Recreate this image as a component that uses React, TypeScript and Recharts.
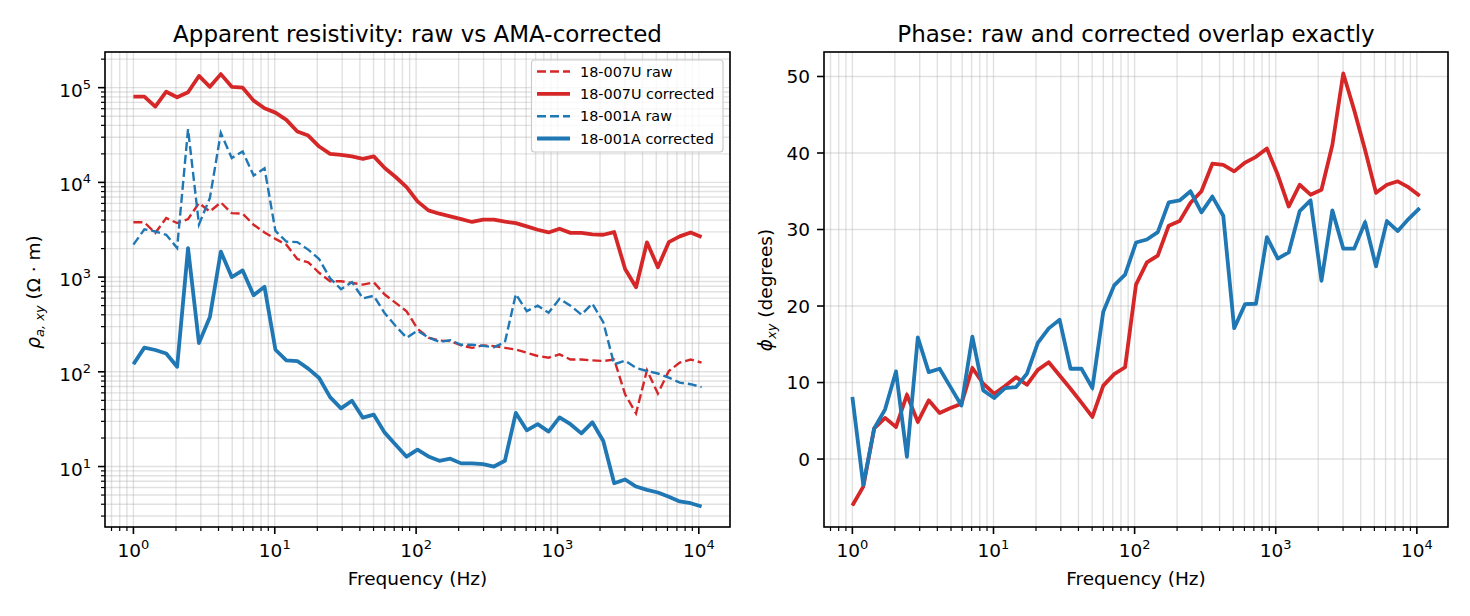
import React from "react";
import { LineChart, Line, XAxis, YAxis, CartesianGrid } from "recharts";

// ---------- data ----------
const freqs = [
  1.0, 1.195, 1.428, 1.706, 2.038, 2.435, 2.909, 3.476, 4.153, 4.962, 5.929, 7.084, 8.464,
  10.11, 12.08, 14.44, 17.25, 20.61, 24.63, 29.42, 35.16, 42.01, 50.19, 59.97, 71.65, 85.61,
  102.3, 122.2, 146.0, 174.5, 208.4, 249.0, 297.6, 355.5, 424.8, 507.6, 606.5, 724.6, 865.8,
  1034, 1236, 1477, 1765, 2109, 2519, 3010, 3597, 4297, 5134, 6134, 7328, 8756, 10462,
];

const rho007Raw = [
  3790, 3790, 2920, 4210, 3720, 4100, 6050, 4930, 6140, 4740,
  4670, 3570, 2960, 2530, 2200, 1550, 1430, 1110, 904, 904,
  869, 834, 880, 655, 535, 436, 285, 229, 214, 211,
  190, 179, 190, 187, 179, 172, 159, 147, 141, 153,
  135, 135, 132, 130, 135, 57.8, 36.5, 104, 59, 102,
  125, 135, 125,
];

const rho007Cor = [
  80400, 80400, 63100, 90700, 79200, 89600, 133000, 102000, 139000, 102000,
  100000, 73000, 60600, 54500, 45700, 34400, 31200, 23900, 20000, 19500,
  18800, 17700, 18800, 14200, 11400, 8900, 6300, 5060, 4670, 4380,
  4100, 3820, 4040, 4040, 3850, 3720, 3430, 3160, 2960, 3240,
  2930, 2930, 2820, 2800, 2990, 1220, 782, 2330, 1270, 2340,
  2690, 2960, 2650,
];

const rho001Raw = [
  2200, 3200, 3030, 2800, 2030, 36500, 3600, 6850, 33300, 18100,
  21200, 11800, 14100, 3070, 2370, 2340, 1950, 1550, 970, 745,
  885, 597, 635, 415, 305, 229, 272, 231, 207, 216,
  193, 193, 188, 182, 205, 660, 437, 500, 421, 590,
  500, 402, 525, 334, 120, 131, 110, 102, 96, 87,
  77, 74, 69,
];

const rho001Cor = [
  120, 180, 170, 156, 113, 2020, 201, 380, 1860, 1000,
  1175, 645, 790, 171, 132, 130, 108, 86, 54, 41.1,
  49.5, 32.8, 35.3, 22.8, 17.0, 12.7, 15.1, 12.8, 11.5, 12.1,
  10.8, 10.8, 10.6, 10.0, 11.5, 36.8, 24.1, 28.0, 23.4, 33.0,
  28.0, 22.4, 29.3, 18.6, 6.67, 7.3, 6.15, 5.67, 5.32, 4.8,
  4.28, 4.1, 3.79,
];

const phase007 = [
  -6.06, -3.6, 4.0, 5.38, 4.2, 8.4, 4.86, 7.67, 6.03, 6.68,
  7.24, 11.9, 9.84, 8.54, 9.54, 10.7, 9.71, 11.66, 12.66, 10.92,
  9.19, 7.37, 5.5, 9.6, 11.1, 12.0, 22.8, 25.7, 26.6, 30.5,
  31.1, 33.5, 35.0, 38.6, 38.45, 37.6, 38.75, 39.5, 40.6, 37.15,
  33.0, 35.85, 34.55, 35.2, 41.05, 50.4, 45.6, 40.4, 34.8, 35.85,
  36.3, 35.5, 34.4,
];

const phase001 = [
  8.11, -3.38, 4.0, 6.5, 11.45, 0.3, 15.9, 11.36, 11.8, 9.4,
  7.0, 16.0, 8.97, 7.98, 9.28, 9.4, 11.14, 15.17, 17.08, 18.2,
  11.8, 11.8, 9.28, 19.25, 22.7, 24.1, 28.3, 28.7, 29.65, 33.55,
  33.8, 35.0, 32.25, 34.3, 31.8, 17.1, 20.25, 20.3, 29.0, 26.2,
  27.0, 32.4, 33.8, 23.3, 32.5, 27.5, 27.5, 30.95, 25.2, 31.1,
  29.8, 31.4, 32.8,
];

const seriesNames = ["18-007U raw", "18-007U corrected", "18-001A raw", "18-001A corrected"];
const titles = ["Apparent resistivity: raw vs AMA-corrected", "Phase: raw and corrected overlap exactly"];
const xLabel = "Frequency (Hz)";

// ---------- axes config ----------
const xMajorTicks = [1, 10, 100, 1000, 10000];
const xMinorTicks = [0.7, 0.8, 0.9, 2, 3, 4, 5, 6, 7, 8, 9, 20, 30, 40, 50, 60, 70, 80, 90,
  200, 300, 400, 500, 600, 700, 800, 900, 2000, 3000, 4000, 5000, 6000, 7000, 8000, 9000];
const xTicks = [...xMajorTicks, ...xMinorTicks].sort((a, b) => a - b);
const xDomain = [0.6295, 16620];

const rhoMajorTicks = [10, 100, 1000, 10000, 100000];
const rhoMinorTicks = [3, 4, 5, 6, 7, 8, 9, 20, 30, 40, 50, 60, 70, 80, 90,
  200, 300, 400, 500, 600, 700, 800, 900, 2000, 3000, 4000, 5000, 6000, 7000, 8000, 9000,
  20000, 30000, 40000, 50000, 60000, 70000, 80000, 90000, 200000];
const rhoTicks = [...rhoMajorTicks, ...rhoMinorTicks].sort((a, b) => a - b);
const rhoDomain = [2.3, 238000];

const phaseTicks = [0, 10, 20, 30, 40, 50];
const phaseDomain = [-8.88, 53.2];

const RED = "#d62728";
const BLUE = "#1f77b4";
const FONT = "DejaVu Sans, Verdana, sans-serif";
const TICK_FS = 18.5;
const SUP_FS = 13;

const rhoData = freqs.map((f, i) => ({
  f,
  r7raw: rho007Raw[i],
  r7cor: rho007Cor[i],
  r1raw: rho001Raw[i],
  r1cor: rho001Cor[i],
}));

const phaseData = freqs.map((f, i) => ({
  f,
  p7raw: phase007[i],
  p7cor: phase007[i],
  p1raw: phase001[i],
  p1cor: phase001[i],
}));

function isDecade(v: number) {
  const l = Math.log10(v);
  return Math.abs(l - Math.round(l)) < 1e-6;
}

function LogXTick(props: any) {
  const { x, y, payload } = props;
  const v = payload.value;
  const major = isDecade(v);
  const e = Math.round(Math.log10(v));
  return (
    <g>
      <line x1={x} x2={x} y1={y} y2={y + (major ? 7 : 4)} stroke="#000" strokeWidth={major ? 1.6 : 1.2} />
      {major && (
        <text x={x} y={y + 30} textAnchor="middle" fontFamily={FONT} fontSize={TICK_FS} fill="#000">
          10<tspan dy={-8} fontSize={SUP_FS}>{e}</tspan>
        </text>
      )}
    </g>
  );
}

function LogYTick(props: any) {
  const { x, y, payload } = props;
  const v = payload.value;
  const major = isDecade(v);
  const e = Math.round(Math.log10(v));
  return (
    <g>
      <line x1={x - (major ? 7 : 4)} x2={x} y1={y} y2={y} stroke="#000" strokeWidth={major ? 1.6 : 1.2} />
      {major && (
        <text x={x - 14} y={y + 9} textAnchor="end" fontFamily={FONT} fontSize={TICK_FS} fill="#000">
          10<tspan dy={-8} fontSize={SUP_FS}>{e}</tspan>
        </text>
      )}
    </g>
  );
}

function LinYTick(props: any) {
  const { x, y, payload } = props;
  return (
    <g>
      <line x1={x - 7} x2={x} y1={y} y2={y} stroke="#000" strokeWidth={1.6} />
      <text x={x - 14} y={y + 6.7} textAnchor="end" fontFamily={FONT} fontSize={TICK_FS} fill="#000">
        {payload.value}
      </text>
    </g>
  );
}

const gridProps = { stroke: "#b0b0b0", strokeOpacity: 0.38, strokeWidth: 1.4 };
const rawLine = { strokeWidth: 2.4, strokeDasharray: "9 4", dot: false, isAnimationActive: false, type: "linear" as const };
const corLine = { strokeWidth: 3.8, dot: false, isAnimationActive: false, type: "linear" as const, strokeLinejoin: "round" as const };

export default function App() {
  const legendRows = [
    { name: seriesNames[0], color: RED, dashed: true, y: 71.5 },
    { name: seriesNames[1], color: RED, dashed: false, y: 93.8 },
    { name: seriesNames[2], color: BLUE, dashed: true, y: 116.2 },
    { name: seriesNames[3], color: BLUE, dashed: false, y: 138.5 },
  ];
  return (
    <div style={{ position: "absolute", left: 0, top: 0, width: 1470, height: 616, background: "#fff", overflow: "hidden" }}>
      <div style={{ position: "absolute", left: 0, top: 0 }}>
        <LineChart width={740} height={616} data={rhoData} margin={{ top: 52, right: 10, bottom: 0, left: 0 }}>
          <CartesianGrid {...gridProps} />
          <XAxis
            dataKey="f" type="number" scale="log" domain={xDomain} allowDataOverflow
            ticks={xTicks} interval={0} tickSize={0} tickMargin={0} axisLine={false} tickLine={false}
            tick={LogXTick} height={89}
          />
          <YAxis
            type="number" scale="log" domain={rhoDomain} allowDataOverflow
            ticks={rhoTicks} interval={0} tickSize={0} tickMargin={0} axisLine={false} tickLine={false}
            tick={LogYTick} width={105}
          />
          <Line dataKey="r7raw" stroke={RED} {...rawLine} />
          <Line dataKey="r7cor" stroke={RED} {...corLine} />
          <Line dataKey="r1raw" stroke={BLUE} {...rawLine} />
          <Line dataKey="r1cor" stroke={BLUE} {...corLine} />
        </LineChart>
      </div>
      <div style={{ position: "absolute", left: 740, top: 0 }}>
        <LineChart width={730} height={616} data={phaseData} margin={{ top: 52, right: 22, bottom: 0, left: 0 }}>
          <CartesianGrid {...gridProps} />
          <XAxis
            dataKey="f" type="number" scale="log" domain={xDomain} allowDataOverflow
            ticks={xTicks} interval={0} tickSize={0} tickMargin={0} axisLine={false} tickLine={false}
            tick={LogXTick} height={89}
          />
          <YAxis
            type="number" domain={phaseDomain} allowDataOverflow
            ticks={phaseTicks} interval={0} tickSize={0} tickMargin={0} axisLine={false} tickLine={false}
            tick={LinYTick} width={84}
          />
          <Line dataKey="p7raw" stroke={RED} {...rawLine} />
          <Line dataKey="p7cor" stroke={RED} {...corLine} />
          <Line dataKey="p1raw" stroke={BLUE} {...rawLine} />
          <Line dataKey="p1cor" stroke={BLUE} {...corLine} />
        </LineChart>
      </div>
      <svg width={1470} height={616} style={{ position: "absolute", left: 0, top: 0, pointerEvents: "none" }}>
        <rect x={105} y={52} width={625} height={475} fill="none" stroke="#000" strokeWidth={1.6} />
        <rect x={824} y={52} width={624} height={475} fill="none" stroke="#000" strokeWidth={1.6} />
        <text x={417.5} y={41.5} textAnchor="middle" fontFamily={FONT} fontSize={23} fill="#000">{titles[0]}</text>
        <text x={1136} y={41.5} textAnchor="middle" fontFamily={FONT} fontSize={23} fill="#000">{titles[1]}</text>
        <text x={417.5} y={585} textAnchor="middle" fontFamily={FONT} fontSize={18.5} fill="#000">{xLabel}</text>
        <text x={1136} y={585} textAnchor="middle" fontFamily={FONT} fontSize={18.5} fill="#000">{xLabel}</text>
        <text transform="translate(40,292) rotate(-90)" textAnchor="middle" fontFamily={FONT} fontSize={18.5} fill="#000">
          <tspan fontStyle="italic">ρ</tspan>
          <tspan fontStyle="italic" fontSize={13} dy={4}>a, xy</tspan>
          <tspan dy={-4}> (Ω · m)</tspan>
        </text>
        <text transform="translate(772,290) rotate(-90)" textAnchor="middle" fontFamily={FONT} fontSize={18.5} fill="#000">
          <tspan fontStyle="italic">ϕ</tspan>
          <tspan fontStyle="italic" fontSize={13} dy={4}>xy</tspan>
          <tspan dy={-4}> (degrees)</tspan>
        </text>
        <rect x={531.5} y={60} width={191.5} height={92} rx={3} fill="#fff" fillOpacity={0.8} stroke="#cccccc" strokeWidth={1.2} />
        {legendRows.map((r) => (
          <g key={r.name}>
            <line x1={537} x2={570} y1={r.y} y2={r.y} stroke={r.color}
              strokeWidth={r.dashed ? 2.4 : 3.8} strokeDasharray={r.dashed ? "9 4" : undefined} />
            <text x={580} y={r.y + 5.2} fontFamily={FONT} fontSize={14.4} fill="#000">{r.name}</text>
          </g>
        ))}
      </svg>
    </div>
  );
}
